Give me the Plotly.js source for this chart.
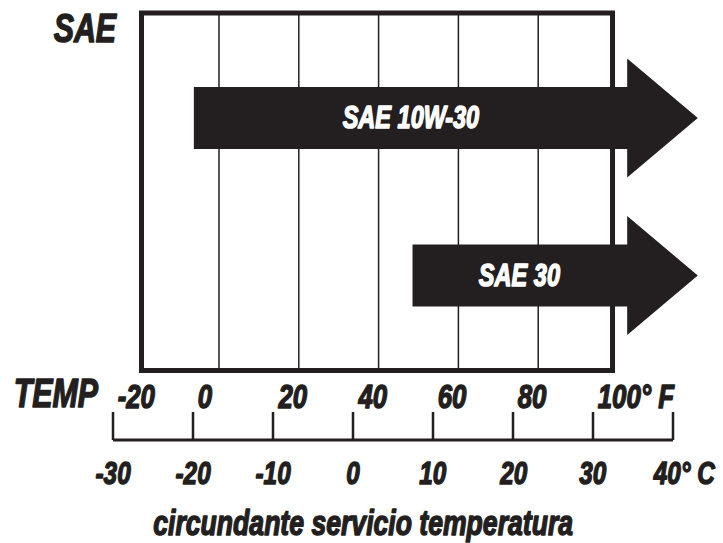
<!DOCTYPE html>
<html>
<head>
<meta charset="utf-8">
<script src="https://cdn.plot.ly/plotly-3.0.1.min.js"></script>
<style>
  html, body { margin: 0; padding: 0; background: #ffffff; }
  #chart { width: 723px; height: 543px; }
</style>
</head>
<body>
<div id="chart"></div>
<script>
// Oil grades and the lowest ambient temperature (°F) each one is recommended from
const grades = ['SAE 10W-30', 'SAE 30'];
const startF = [-6.3, 48.5];

// Fahrenheit gridlines inside the frame
const gridF = [0, 20, 40, 60, 80];

// Celsius scale: tick values, their labels, and the Fahrenheit labels printed above
const celsiusTicks = [-30, -20, -10, 0, 10, 20, 30, 40];
const celsiusLabels = ['-30', '-20', '-10', '0', '10', '20', '30', '40° C'];
const fahrenheitLabels = ['-20', '0', '20', '40', '60', '80', '100° F'];

// ---- styling / layout constants ----
const INK = '#231f20';
const FONT = '"Liberation Sans", Arial, sans-serif';
const font = (size, color) => ({ family: FONT, size: size, color: color || INK, weight: 'bold', style: 'italic' });
const CONDENSE = 0.76;   // horizontal squeeze for the condensed lettering
const HEAVY = '1.5px';   // extra stroke to thicken the letters

const FRAME = { x0: 0.1957, x1: 0.8472, y0: 0.3177, y1: 0.9761 };
const ROW_Y = [0.7827, 0.4926];      // arrow centre lines (paper units)
const BODY_HALF = 0.0571;             // half height of arrow shaft
const HEAD_HALF = 0.1096;             // half height of arrow head
const ARROW_TIP_F = 120;              // arrows run off past the top of the range
const HEAD_LEN_F = 17.7;

const SCALE_BASE_Y = 0.1897;
const SCALE_TICK_TOP = 0.2413;

// ---- arrows, one filled polygon per grade ----
const traces = grades.map((g, i) => {
  const yc = ROW_Y[i];
  const base = ARROW_TIP_F - HEAD_LEN_F;
  const s = startF[i];
  return {
    type: 'scatter', mode: 'lines', fill: 'toself',
    fillcolor: INK, line: { width: 0, color: INK },
    x: [s, base, base, ARROW_TIP_F, base, base, s, s],
    y: [yc + BODY_HALF, yc + BODY_HALF, yc + HEAD_HALF, yc, yc - HEAD_HALF, yc - BODY_HALF, yc - BODY_HALF, yc + BODY_HALF],
    hoverinfo: 'skip', showlegend: false, name: g
  };
});

// ---- Celsius scale: baseline and tick marks on the x2 axis ----
const first = celsiusTicks[0], last = celsiusTicks[celsiusTicks.length - 1];
traces.push({
  type: 'scatter', mode: 'lines', xaxis: 'x2', yaxis: 'y',
  x: [first, last], y: [SCALE_BASE_Y, SCALE_BASE_Y],
  line: { color: INK, width: 3 }, hoverinfo: 'skip', showlegend: false
});
const tx = [], ty = [];
celsiusTicks.forEach(c => { tx.push(c, c, null); ty.push(SCALE_BASE_Y, SCALE_TICK_TOP, null); });
traces.push({
  type: 'scatter', mode: 'lines', xaxis: 'x2', yaxis: 'y',
  x: tx, y: ty, connectgaps: false,
  line: { color: INK, width: 2.5 }, hoverinfo: 'skip', showlegend: false
});

// ---- frame and gridlines ----
const shapes = [
  { type: 'rect', xref: 'paper', yref: 'paper', layer: 'below',
    x0: FRAME.x0, x1: FRAME.x1, y0: FRAME.y0, y1: FRAME.y1,
    line: { color: INK, width: 5 }, fillcolor: 'rgba(0,0,0,0)' }
];
gridF.forEach(f => shapes.push({
  type: 'line', xref: 'x', yref: 'paper', layer: 'below',
  x0: f, x1: f, y0: FRAME.y0, y1: FRAME.y1,
  line: { color: INK, width: 1.5 }
}));

// ---- text ----
const annotations = [];
grades.forEach((g, i) => {
  const base = ARROW_TIP_F - HEAD_LEN_F;
  annotations.push({
    xref: 'x', yref: 'paper', x: (startF[i] + base) / 2, y: ROW_Y[i],
    text: g, showarrow: false, xanchor: 'center', yanchor: 'middle',
    font: font(31, '#ffffff')
  });
});
annotations.push({ xref: 'paper', yref: 'paper', x: 0.0719, y: 0.948, text: 'SAE',
  showarrow: false, xanchor: 'left', yanchor: 'middle', font: font(40) });
annotations.push({ xref: 'paper', yref: 'paper', x: 0.0166, y: 0.2762, text: 'TEMP',
  showarrow: false, xanchor: 'left', yanchor: 'middle', font: font(40) });
fahrenheitLabels.forEach((t, i) => annotations.push({
  xref: 'x2', yref: 'paper', x: celsiusTicks[i], y: 0.2707, text: t,
  showarrow: false, xanchor: 'left', yanchor: 'middle', xshift: 3, font: font(34)
}));
celsiusLabels.forEach((t, i) => {
  const isLast = i === celsiusLabels.length - 1;
  annotations.push({
    xref: 'x2', yref: 'paper', x: celsiusTicks[i], y: 0.1298, text: t,
    showarrow: false, xanchor: isLast ? 'right' : 'center',
    xshift: isLast ? 44 : 0, yanchor: 'middle', font: font(32)
  });
});
annotations.push({ xref: 'paper', yref: 'paper', x: 0.502, y: 0.038,
  text: 'circundante servicio temperatura', showarrow: false,
  xanchor: 'center', yanchor: 'middle', font: font(35) });

const layout = {
  width: 723, height: 543,
  margin: { l: 0, r: 0, t: 0, b: 0, pad: 0 },
  paper_bgcolor: '#ffffff', plot_bgcolor: '#ffffff',
  showlegend: false,
  xaxis: { range: [-54.887, 126.316], visible: false, fixedrange: true },
  xaxis2: { range: [-44.125, 46.25], visible: false, overlaying: 'x', anchor: 'y', fixedrange: true },
  yaxis: { range: [0, 1], visible: false, fixedrange: true },
  shapes: shapes,
  annotations: annotations
};

// Squeeze each label horizontally about its anchored edge, giving a condensed heavy face
function condenseLabels(gd) {
  gd.querySelectorAll('g.annotation').forEach(g => {
    const idx = +g.getAttribute('data-index');
    const ann = gd.layout.annotations[idx];
    const box = g.getBBox();
    let ax = box.x + box.width / 2;
    if (ann.xanchor === 'left') ax = box.x;
    if (ann.xanchor === 'right') ax = box.x + box.width;
    const prev = g.getAttribute('transform') || '';
    g.setAttribute('transform',
      `translate(${ax},0) scale(${CONDENSE},1) translate(${-ax},0) ${prev}`);
    const t = g.querySelector('text.annotation-text');
    if (t) {
      t.style.stroke = t.style.fill;
      t.style.strokeWidth = HEAVY;
      t.style.strokeLinejoin = 'round';
    }
  });
}

Plotly.newPlot('chart', traces, layout, { staticPlot: true, displayModeBar: false })
  .then(condenseLabels);
</script>
</body>
</html>
